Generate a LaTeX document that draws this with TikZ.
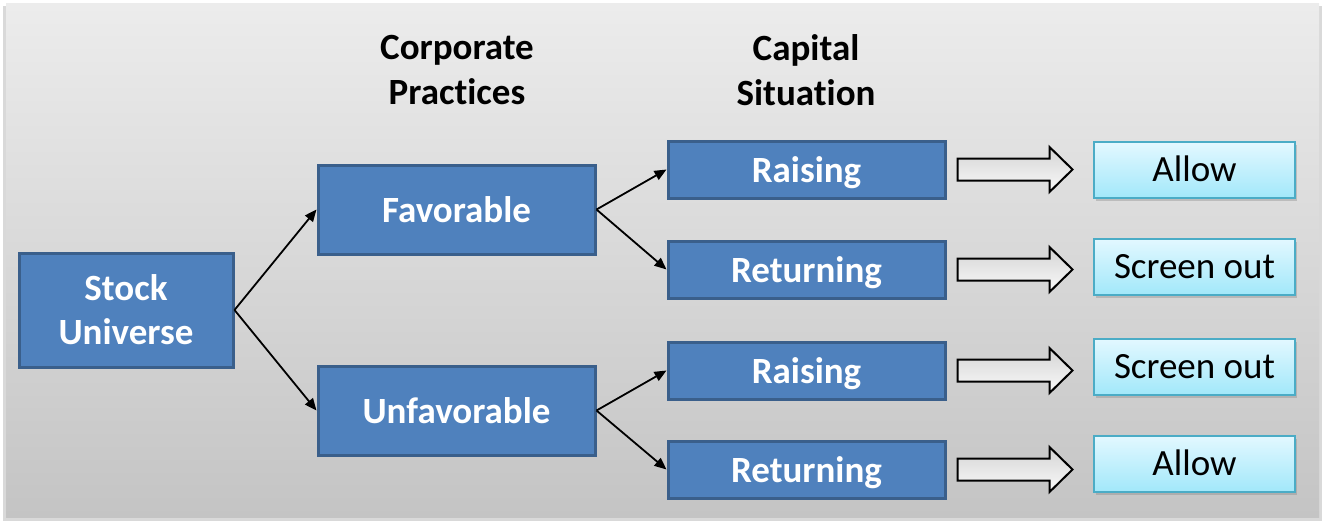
\documentclass[tikz,border=0pt]{standalone}
\usepackage{fontspec}
\setmainfont{Carlito}[Ligatures={NoCommon}]
\usetikzlibrary{arrows.meta,shadows,calc}
\definecolor{blueface}{HTML}{4F81BD}
\definecolor{blueedge}{HTML}{3A5F8B}
\definecolor{cyantop}{HTML}{E3F8FF}
\definecolor{cyanbot}{HTML}{A2E8FA}
\definecolor{cyanedge}{HTML}{4BACC6}
\definecolor{bgtop}{HTML}{ECECEC}
\definecolor{bgbot}{HTML}{C4C4C4}
\definecolor{arrtop}{HTML}{D4D4D4}
\definecolor{arrbot}{HTML}{FAFAFA}
\newcommand{\blockarrow}[1]{%
  \draw[blockarr] ($(#1.east)+(11,-11)$) -- ++(92,0) -- ++(0,-11.5) -- ++(23,22.5) -- ++(-23,22.5) -- ++(0,-11.5) -- ++(-92,0) -- cycle;}
\begin{document}
\begin{tikzpicture}[x=1pt,y=-1pt,
  bluebox/.style={draw=blueedge, fill=blueface, line width=3pt, text=white,
    font=\fontsize{37}{44}\selectfont\bfseries, align=center, inner sep=0pt},
  oneline/.style={text height=30pt, text depth=5pt},
  resultbox/.style={draw=cyanedge, line width=2pt, top color=cyantop, bottom color=cyanbot,
    font=\fontsize{37}{44}\selectfont, text=black, inner sep=0pt,
    minimum width=201pt, minimum height=56pt, text height=29pt, text depth=5.5pt,
    drop shadow={shadow xshift=2pt, shadow yshift=-3pt, opacity=0.35}},
  header/.style={font=\fontsize{37}{45}\selectfont\bfseries, align=center, inner sep=0pt},
  conn/.style={line width=1.8pt, -{Triangle[length=12pt,width=10pt]}},
  blockarr/.style={draw=black, line width=2pt, top color=arrtop, bottom color=arrbot}
]
\useasboundingbox (0,0) rectangle (1327,527);
\fill[black!25, opacity=0.6] (3,6) rectangle (1322,521);
\shade[top color=bgtop, bottom color=bgbot] (6,4) rectangle (1319,517);

\node[header] (hcorp) at (457,70) {Corporate\\Practices};
\node[header] (hcap) at (806,70) {Capital\\Situation};

\node[bluebox, minimum width=214pt, minimum height=114pt] (stock) at (126,310) {Stock\\Universe};
\node[bluebox, oneline, minimum width=277pt, minimum height=89pt] (fav) at (456.5,209.5) {Favorable};
\node[bluebox, oneline, minimum width=277pt, minimum height=89pt] (unfav) at (456.5,410.5) {Unfavorable};
\node[bluebox, oneline, minimum width=277pt, minimum height=57pt] (rai1) at (806.5,169.5) {Raising};
\node[bluebox, oneline, minimum width=277pt, minimum height=57pt] (ret1) at (806.5,269.5) {Returning};
\node[bluebox, oneline, minimum width=277pt, minimum height=57pt] (rai2) at (806.5,370.5) {Raising};
\node[bluebox, oneline, minimum width=277pt, minimum height=57pt] (ret2) at (806.5,469.5) {Returning};

\node[resultbox] (res1) at (1194.5,170) {Allow};
\node[resultbox] (res2) at (1194.5,266.5) {Screen out};
\node[resultbox] (res3) at (1194.5,366.5) {Screen out};
\node[resultbox] (res4) at (1194.5,463.5) {Allow};

\draw[conn] (stock.east) -- (fav.west);
\draw[conn] (stock.east) -- (unfav.west);
\draw[conn] (fav.east) -- (rai1.west);
\draw[conn] (fav.east) -- (ret1.west);
\draw[conn] (unfav.east) -- (rai2.west);
\draw[conn] (unfav.east) -- (ret2.west);

\blockarrow{rai1}
\blockarrow{ret1}
\blockarrow{rai2}
\blockarrow{ret2}
\end{tikzpicture}
\end{document}
